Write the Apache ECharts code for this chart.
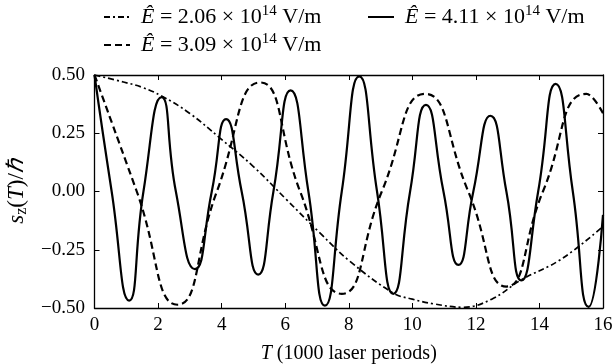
<!DOCTYPE html>
<html>
<head>
<meta charset="utf-8">
<script src="https://cdn.jsdelivr.net/npm/echarts@6/dist/echarts.min.js"></script>
<style>
html,body{margin:0;padding:0;background:#fff;}
#c{width:613px;height:364px;}
</style>
</head>
<body>
<div id="c"></div>
<script>
// ---- data ----
var dashDotX = [0, 0.91, 1.5, 2.11, 3.0, 3.95, 5.0, 6.05, 7.1, 8.04, 9.40, 10.0, 10.66, 11.6, 12.5, 13.43, 14.69, 16];
var dashDotY = [0.5, 0.47, 0.447, 0.41, 0.335, 0.229, 0.107, -0.036, -0.179, -0.30, -0.436, -0.462, -0.482, -0.497, -0.462, -0.379, -0.29, -0.15];

var dashedX = [0, 1.33, 2.61, 3.85, 5.21, 6.47, 7.78, 9.04, 10.40, 11.76, 12.96, 14.11, 15.48, 16];
var dashedY = [0.5, 0, -0.486, 0, 0.468, 0, -0.439, 0, 0.419, 0, -0.408, 0, 0.419, 0.336];

var solidX = [0, 0.54, 1.09, 1.54, 2.11, 2.56, 3.16, 3.69, 4.14, 4.63, 5.15, 5.63, 6.17, 6.73, 7.25, 7.78, 8.33, 8.89, 9.40, 9.93, 10.43, 10.98, 11.45, 11.92, 12.46, 12.96, 13.43, 13.96, 14.51, 15.05, 15.55, 16];
var solidY = [0.5, 0, -0.468, 0, 0.405, 0, -0.333, 0, 0.311, 0, -0.357, 0, 0.434, 0, -0.49, 0, 0.494, 0, -0.439, 0, 0.372, 0, -0.315, 0, 0.325, 0, -0.382, 0, 0.462, 0, -0.495, -0.1];

var legendTexts = {
  E206: '{i|Ê} = 2.06 × 10{sup|14} V/m',
  E309: '{i|Ê} = 3.09 × 10{sup|14} V/m',
  E411: '{i|Ê} = 4.11 × 10{sup|14} V/m'
};
var xTicks = {min: 0, max: 16, interval: 2};
var yTicks = {min: -0.5, max: 0.5, interval: 0.25};

function pairs(xs, ys) { return xs.map(function (x, i) { return [x, ys[i]]; }); }

var FONT = '"Liberation Serif", "Times New Roman", serif';
var LFS = 22;
function richFor(fs, lh) {
  return {
    i: {fontStyle: 'italic', fontFamily: FONT, fontSize: fs, color: '#000', lineHeight: lh},
    sup: {fontFamily: FONT, fontSize: Math.round(fs * 0.68), color: '#000', verticalAlign: 'top', lineHeight: lh},
    sub: {fontFamily: FONT, fontSize: Math.round(fs * 0.68), color: '#000', verticalAlign: 'bottom', lineHeight: lh}
  };
}

var axisCommon = {
  type: 'value',
  axisLine: {show: true, onZero: false, lineStyle: {color: '#000', width: 1.3}},
  axisTick: {show: true, inside: true, length: 5, lineStyle: {color: '#000', width: 1}},
  splitLine: {show: false}
};

var legendCommon = {
  orient: 'vertical', top: 4, padding: 0,
  itemWidth: 26, itemHeight: 12, itemGap: 2,
  itemStyle: {opacity: 0},
  formatter: function (n) { return legendTexts[n]; },
  textStyle: {fontFamily: FONT, fontSize: LFS, color: '#000', lineHeight: 26, padding: [0, 0, 0, 6], rich: richFor(LFS, 26)}
};

var chart = echarts.init(document.getElementById('c'), null, {renderer: 'canvas'});
chart.setOption({
  animation: false,
  backgroundColor: '#fff',
  textStyle: {fontFamily: FONT},
  grid: {left: 94.5, right: 10, top: 75, bottom: 56, containLabel: false, outerBoundsMode: 'none'},
  legend: [
    Object.assign({}, legendCommon, {data: ['E206', 'E309'], left: 103}),
    Object.assign({}, legendCommon, {data: ['E411'], left: 367})
  ],
  xAxis: [
    Object.assign({}, axisCommon, {
      position: 'bottom', min: xTicks.min, max: xTicks.max, interval: xTicks.interval,
      axisLabel: {show: true, margin: 8, color: '#000', fontFamily: FONT, fontSize: 19},
      name: '{i|T} (1000 laser periods)', nameLocation: 'middle', nameGap: 35,
      nameTextStyle: {fontFamily: FONT, fontSize: 20, color: '#000', rich: richFor(20, 22)}
    }),
    Object.assign({}, axisCommon, {
      position: 'top', min: xTicks.min, max: xTicks.max, interval: xTicks.interval,
      axisLabel: {show: false}
    })
  ],
  yAxis: [
    Object.assign({}, axisCommon, {
      position: 'left', min: yTicks.min, max: yTicks.max, interval: yTicks.interval,
      axisLabel: {show: true, margin: 9.5, color: '#000', fontFamily: FONT, fontSize: 19,
        formatter: function (v) { return v.toFixed(2).replace('-', '\u2212'); }},
      name: '{i|s}{sub|z}({i|T})/{i|ℏ}', nameLocation: 'middle', nameGap: 64, nameRotate: 90,
      nameTextStyle: {fontFamily: FONT, fontSize: 23, color: '#000', rich: richFor(23, 26)}
    }),
    Object.assign({}, axisCommon, {
      position: 'right', min: yTicks.min, max: yTicks.max, interval: yTicks.interval,
      axisLabel: {show: false}
    })
  ],
  series: [
    {
      name: 'E206', type: 'line', smooth: 0.4, showSymbol: false, symbol: 'none',
      data: pairs(dashDotX, dashDotY),
      lineStyle: {color: '#000', width: 1.7, type: [6, 3, 2, 3]},
      itemStyle: {color: '#000'}
    },
    {
      name: 'E309', type: 'line', smooth: 0.55, showSymbol: false, symbol: 'none',
      data: pairs(dashedX, dashedY),
      lineStyle: {color: '#000', width: 2.2, type: [7, 4]},
      itemStyle: {color: '#000'}
    },
    {
      name: 'E411', type: 'line', smooth: 0.55, showSymbol: false, symbol: 'none',
      data: pairs(solidX, solidY),
      lineStyle: {color: '#000', width: 2.2},
      itemStyle: {color: '#000'}
    }
  ]
});
</script>
</body>
</html>
